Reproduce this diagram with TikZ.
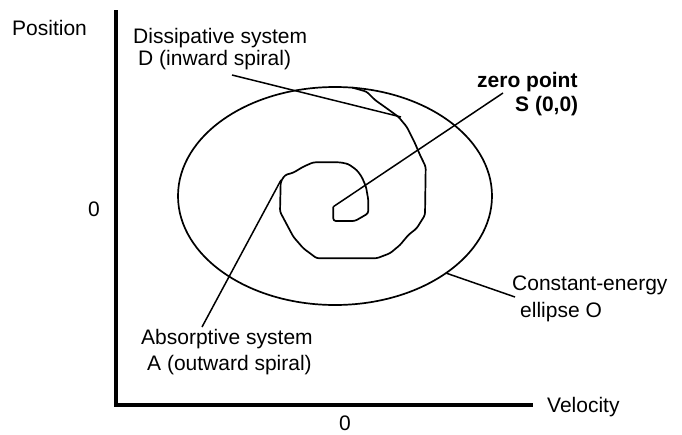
\documentclass[tikz,border=0pt]{standalone}
\usepackage{fontspec}
\setmainfont{Liberation Sans}
\usetikzlibrary{positioning}

\begin{document}
\begin{tikzpicture}[x=1pt,y=-1pt,line join=round,
    lbl/.style={anchor=base west,inner sep=0pt,font=\fontsize{21}{24}\selectfont},
    boldlbl/.style={lbl,font=\fontsize{21}{24}\selectfont\bfseries},
    leader/.style={line width=1.5pt},
    curve/.style={line width=1.7pt}]
  \useasboundingbox (0,0) rectangle (682,434);
  % axes
  \coordinate (top) at (116,10);
  \coordinate (orig) at (116,405);
  \coordinate (right) at (533,405);
  \draw[line width=4.6pt,line join=miter] (top) -- (orig) -- (right);
  \node[lbl] (pos) at (12,35) {Position};
  \node[lbl] (vel) at (547,412) {Velocity};
  \node[lbl,anchor=base] (zeroy) at (94,216) {0};
  \node[lbl,anchor=base] (zerox) at (345,430) {0};
  % constant-energy ellipse
  \draw[curve] (335,196) ellipse [x radius=157, y radius=109];
  % spiral, from the centre outward to the ellipse
  \draw[curve,rounded corners=2.5pt]
    (333.3,206.7) -- (333.3,221) -- (355,221) -- (368.3,213.3) -- (368.3,200)
    -- (366,186.7) -- (361.7,176.7) -- (356.7,170) -- (348.3,164) -- (340,162.3)
    -- (313.3,162.3) -- (303.3,166.7) -- (293.3,172.7) -- (285,175) -- (280.7,181.7)
    -- (280,211.7) -- (293.3,236.7) -- (303.3,248.3) -- (316.7,258.3) -- (376.7,258.3)
    -- (390,253.3) -- (400,245) -- (408.3,235) -- (416.7,228.3) -- (425,215)
    -- (425.7,166.7) -- (420,155) -- (415,143.3) -- (406.7,126.7) -- (398.3,116.7)
    -- (386.7,108.3) -- (375,100) -- (366.7,91.7) -- (352,87.5);
  % labels
  \node[lbl] (dis) at (133,43) {Dissipative system};
  \node[lbl] (disb) at (138,65) {D (inward spiral)};
  \node[boldlbl] (zp) at (477,87) {zero point};
  \node[boldlbl] (zpb) at (515,111) {S (0,0)};
  \node[lbl] (con) at (512,290) {Constant-energy};
  \node[lbl] (conb) at (520,317) {ellipse O};
  \node[lbl] (abs) at (141,344) {Absorptive system};
  \node[lbl] (absb) at (147,370) {A (outward spiral)};
  % leader lines
  \coordinate (dTip) at (232,75);  \coordinate (dEnd) at (401,117);
  \coordinate (sTip) at (503,93);  \coordinate (sEnd) at (333.3,206.7);
  \coordinate (aTip) at (202,327); \coordinate (aEnd) at (281,180);
  \coordinate (oTip) at (515,297); \coordinate (oEnd) at (446.7,273.3);
  \draw[leader] (dTip) -- (dEnd);
  \draw[leader] (sTip) -- (sEnd);
  \draw[leader] (aTip) -- (aEnd);
  \draw[leader] (oTip) -- (oEnd);
\end{tikzpicture}
\end{document}
